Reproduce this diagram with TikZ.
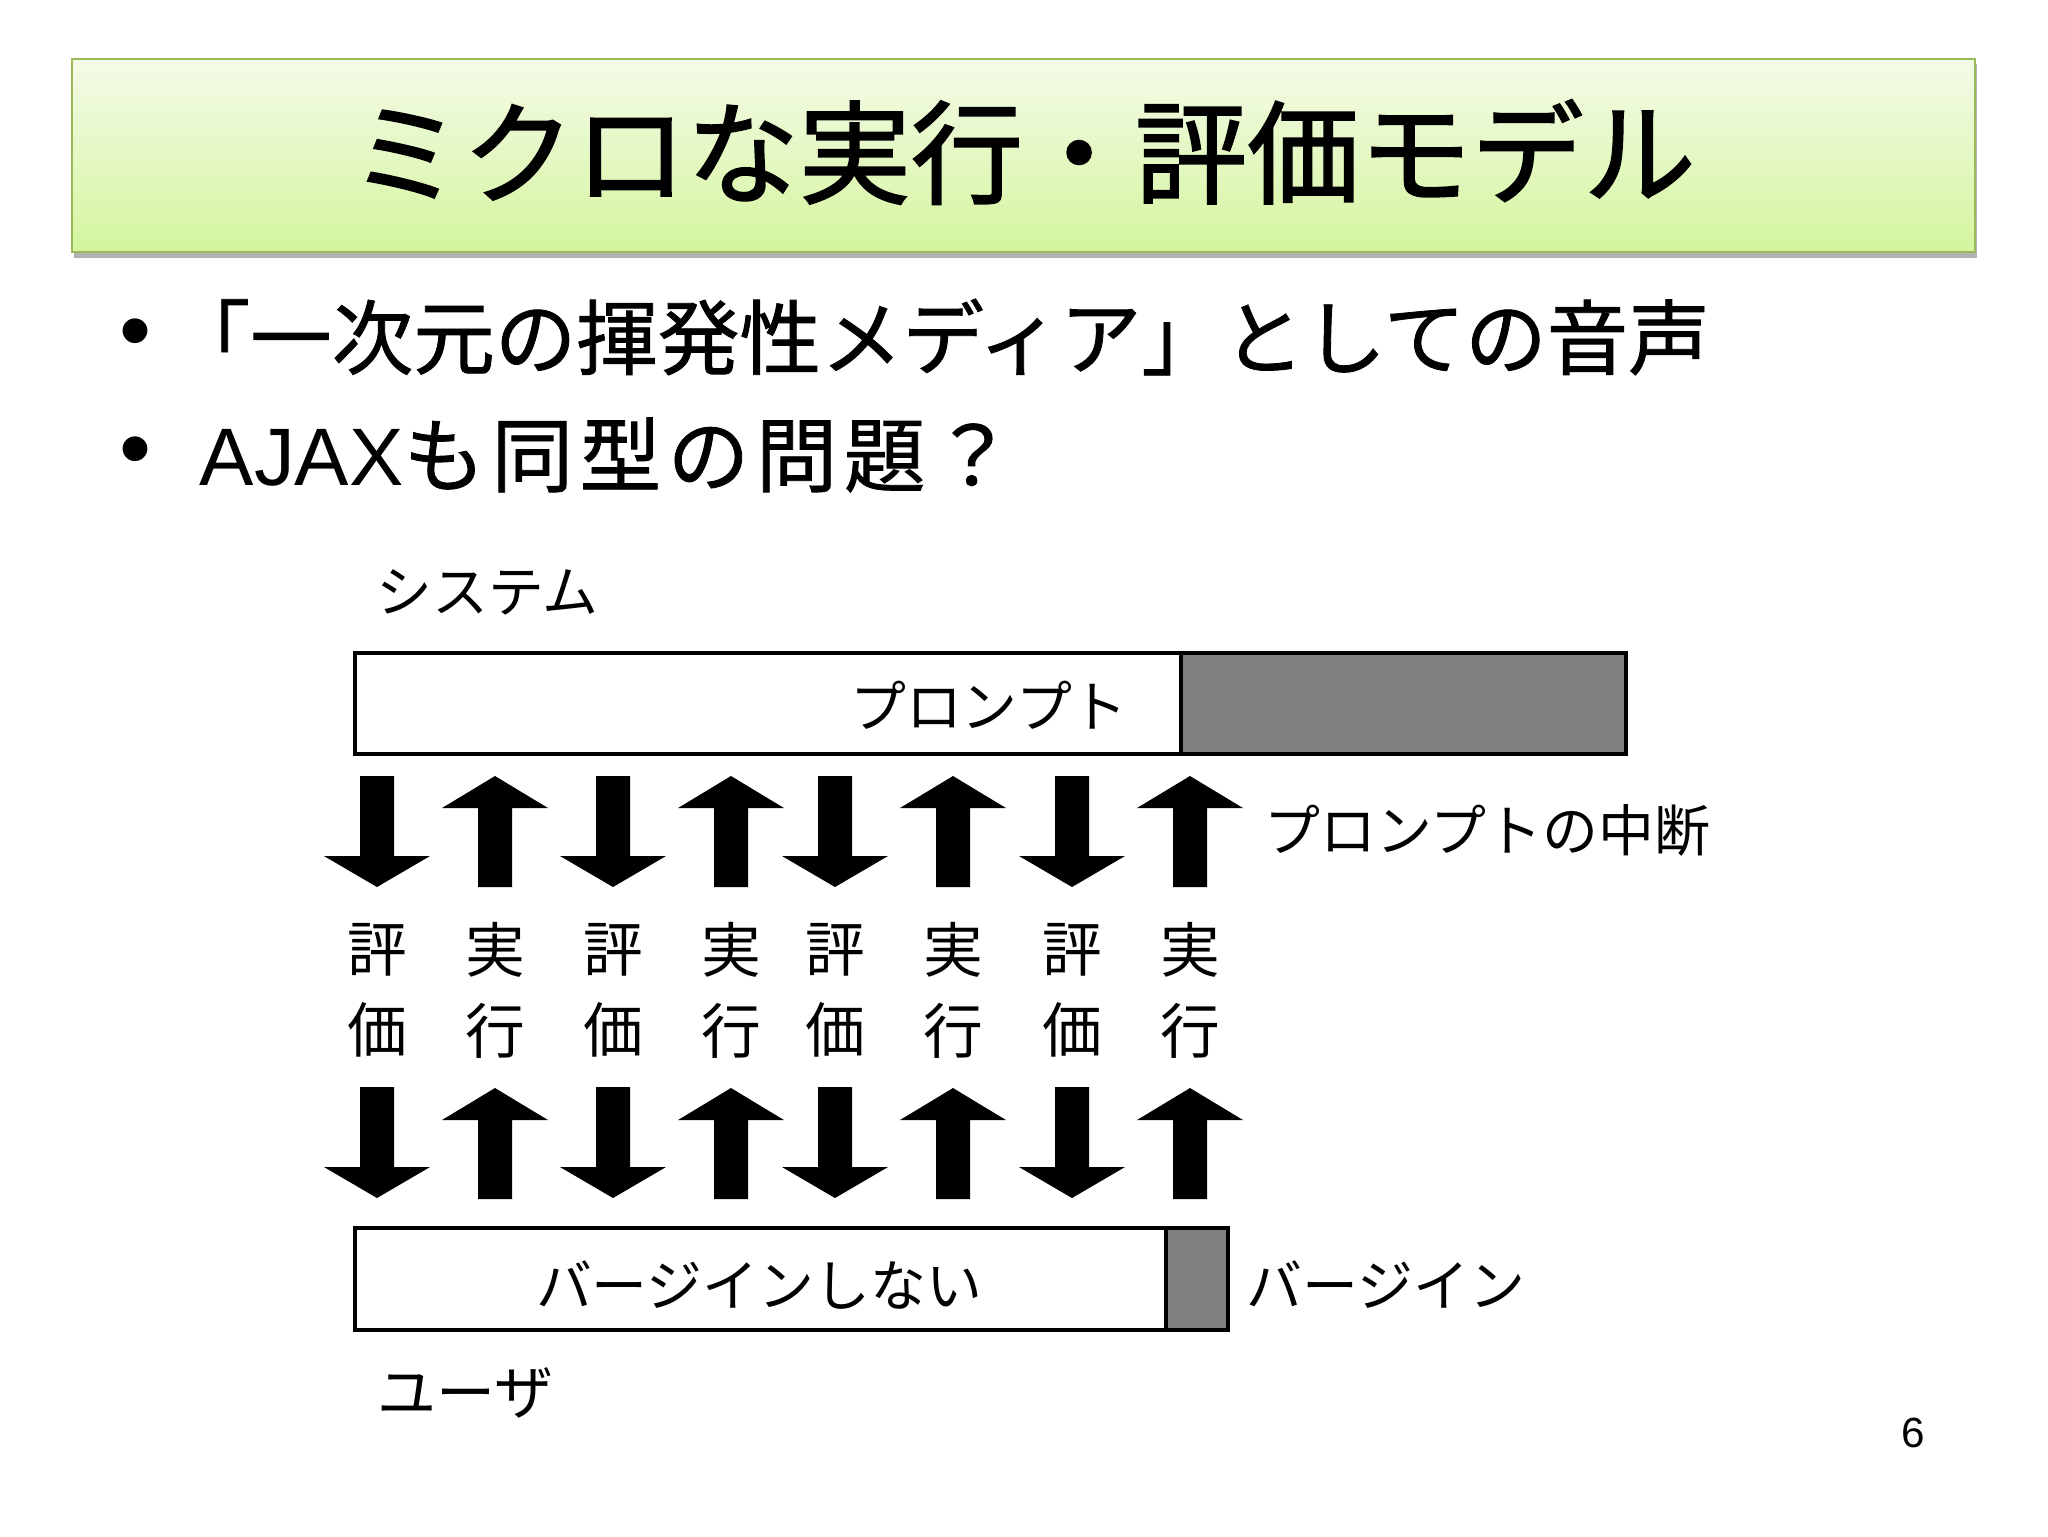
\documentclass[tikz,border=0pt]{standalone}
\usepackage{fontspec}
\setmainfont{Noto Sans CJK JP}
\newfontfamily\arialfont{Liberation Sans}
\newfontfamily\titlefont[FakeBold=1.6]{Noto Sans CJK JP}
\newfontfamily\itemfont[FakeBold=1.0]{Noto Sans CJK JP}
\definecolor{titletop}{RGB}{244,251,232}
\definecolor{titlebot}{RGB}{212,245,158}
\definecolor{titleline}{RGB}{155,187,89}
\definecolor{bargray}{RGB}{128,128,128}
\tikzset{
  titletext/.style={inner sep=0pt, font=\titlefont\fontsize{31.9}{32}\selectfont},
  bullettext/.style={inner sep=0pt, anchor=west, font=\itemfont\fontsize{23.2}{23}\selectfont},
  bulletdot/.style={inner sep=0pt, font=\arialfont\fontsize{26}{26}\selectfont},
  figtext/.style={inner sep=0pt, font=\fontsize{15.9}{16}\selectfont},
  evtext/.style={inner sep=0pt, align=center, font=\fontsize{17}{23}\selectfont},
  barbox/.style={draw=black, line width=1.2pt},
  dnarr/.pic={\fill (-17,0) -- (17,0) -- (17,80) -- (53,80) -- (0,111) -- (-53,80) -- (-17,80) -- cycle;},
  uparr/.pic={\fill (0,0) -- (53,32) -- (17,32) -- (17,111) -- (-17,111) -- (-17,32) -- (-53,32) -- cycle;}
}
\begin{document}
\begin{tikzpicture}[x=0.1mm, y=-0.1mm]
	\useasboundingbox (0,0) rectangle (2048,1536);
	% title box
	\fill[gray!60] (74,64) rectangle (1977,258);
	\shade[top color=titletop, bottom color=titlebot, draw=titleline, line width=0.8pt] (72,59) rectangle (1975,252);
	\node[titletext] (title) at (1023,152) {ミクロな実行・評価モデル};
	% bullets
	\node[bulletdot] (dot1) at (135,340) {•};
	\node[bullettext] (item1) at (168,337) {「一次元の揮発性メディア」としての音声};
	\node[bulletdot] (dot2) at (135,458) {•};
	\node[bullettext] (item2) at (199,455) {{\arialfont AJAX}\addfontfeature{LetterSpace=8}も同型の問題？};
	% system side
	\node[figtext, anchor=west] (system) at (376,592) {システム};
	\fill[bargray] (1181,653) rectangle (1626,754);
	\draw[barbox] (355,653) rectangle (1626,754) (1181,653) -- (1181,754);
	\node[figtext] (prompt) at (989,705) {プロンプト};
	\node[figtext, anchor=west] (cut) at (1264,830) {プロンプトの中断};
	% arrows and labels
	\foreach \i/\dx/\ux in {1/377/495, 2/613/731, 3/835/953, 4/1072/1190}{
		\pic at (\dx,776) {dnarr};
		\pic at (\ux,776) {uparr};
		\pic at (\dx,1087) {dnarr};
		\pic at (\ux,1088) {uparr};
		\node[evtext] (ev\i) at (\dx,990) {評\\価};
		\node[evtext] (ex\i) at (\ux,990) {実\\行};
	}
	% user side
	\fill[bargray] (1166,1228) rectangle (1228,1330);
	\draw[barbox] (355,1228) rectangle (1228,1330) (1166,1228) -- (1166,1330);
	\node[figtext] (nobarge) at (759,1285) {バージインしない};
	\node[figtext, anchor=west] (barge) at (1246,1285) {バージイン};
	\node[figtext, anchor=west, font=\fontsize{16.8}{17}\selectfont] (user) at (377,1393) {ユーザ};
	\node[inner sep=0pt, font=\arialfont\fontsize{12}{12}\selectfont] (page) at (1913,1433) {6};
\end{tikzpicture}
\end{document}
